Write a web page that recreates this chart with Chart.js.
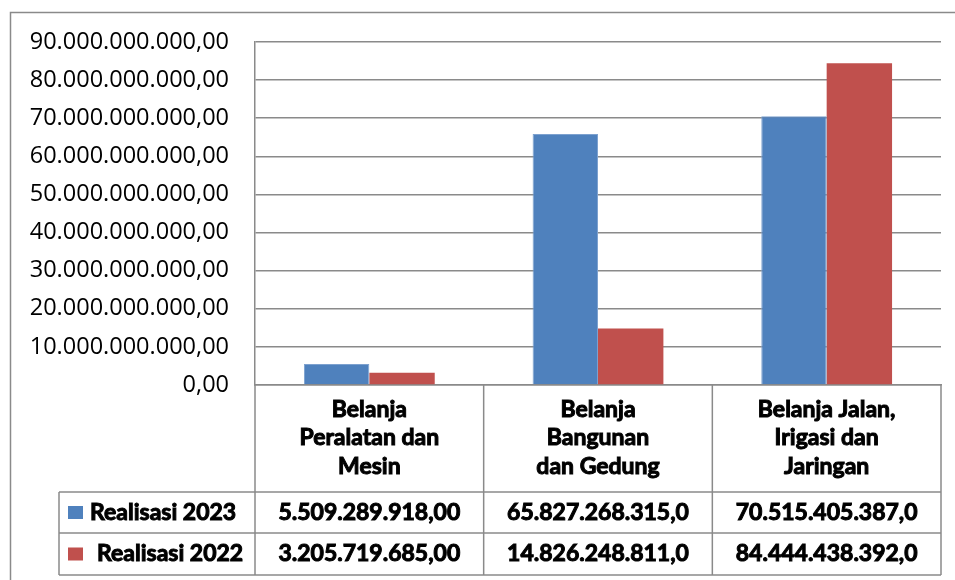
<!DOCTYPE html>
<html>
<head>
<meta charset="utf-8">
<script src="https://cdn.jsdelivr.net/npm/chart.js@4"></script>
<style>
    html, body { margin: 0; padding: 0; background: #ffffff; }
    #wrap { width: 955px; height: 580px; }
</style>
</head>
<body>
<div id="wrap"><canvas id="barChart" width="955" height="580"></canvas></div>
<script>
const categories = [
    ['Belanja', 'Peralatan dan', 'Mesin'],
    ['Belanja', 'Bangunan', 'dan Gedung'],
    ['Belanja Jalan,', 'Irigasi dan', 'Jaringan']
];
const seriesNames = ['Realisasi 2023', 'Realisasi 2022'];
const realisasi2023 = [5509289918, 65827268315, 70515405387];
const realisasi2022 = [3205719685, 14826248811, 84444438392];
const tableRow2023 = ['5.509.289.918,00', '65.827.268.315,0', '70.515.405.387,0'];
const tableRow2022 = ['3.205.719.685,00', '14.826.248.811,0', '84.444.438.392,0'];
const yTicks = [0, 10e9, 20e9, 30e9, 40e9, 50e9, 60e9, 70e9, 80e9, 90e9];

const colors = ['#4f81bd', '#c0504d'];
const lineColor = '#8a8a8a';
const boldFont = 'bold 23px Lato';

function formatRp(v) {
    if (v === 0) return '0,00';
    return Math.round(v).toString().replace(/\B(?=(\d{3})+(?!\d))/g, '.') + ',00';
}

// outer frame + data table under the category axis
const tablePlugin = {
    id: 'dataTable',
    beforeDraw(chart) {
        const ctx = chart.ctx;
        ctx.save();
        ctx.strokeStyle = lineColor;
        ctx.lineWidth = 1.5;
        ctx.beginPath();
        ctx.moveTo(10.5, 600);
        ctx.lineTo(10.5, 12.5);
        ctx.lineTo(960, 12.5);
        ctx.stroke();
        ctx.restore();
    },
    afterDraw(chart) {
        const ctx = chart.ctx;
        const x = chart.scales.x;
        const area = chart.chartArea;
        const half = (x.getPixelForValue(1) - x.getPixelForValue(0)) / 2;
        const edges = [x.getPixelForValue(0) - half];
        categories.forEach((c, i) => edges.push(x.getPixelForValue(i) + half));

        const rowTop = 492, rowMid = 533, rowBottom = 575, legendLeft = 59;

        ctx.save();
        ctx.strokeStyle = lineColor;
        ctx.lineWidth = 1.5;
        ctx.beginPath();
        edges.forEach(e => {
            ctx.moveTo(e, area.bottom);
            ctx.lineTo(e, rowBottom);
        });
        [rowTop, rowMid, rowBottom].forEach(y => {
            ctx.moveTo(legendLeft, y);
            ctx.lineTo(edges[edges.length - 1], y);
        });
        ctx.moveTo(legendLeft, rowTop);
        ctx.lineTo(legendLeft, rowBottom);
        ctx.stroke();

        const rows = [tableRow2023, tableRow2022];
        const rowCenters = [(rowTop + rowMid) / 2, (rowMid + rowBottom) / 2];
        const labelX = [90, 97];
        ctx.font = boldFont;
        ctx.textBaseline = 'middle';
        ctx.strokeStyle = '#000000';
        ctx.lineWidth = 1;
        rows.forEach((row, r) => {
            ctx.fillStyle = colors[r];
            ctx.fillRect(68, rowCenters[r] - 6.5, 15, 13);
            ctx.fillStyle = '#000000';
            ctx.textAlign = 'left';
            ctx.fillText(seriesNames[r], labelX[r], rowCenters[r]);
            ctx.strokeText(seriesNames[r], labelX[r], rowCenters[r]);
            ctx.textAlign = 'center';
            row.forEach((txt, i) => {
                ctx.fillText(txt, x.getPixelForValue(i), rowCenters[r]);
                ctx.strokeText(txt, x.getPixelForValue(i), rowCenters[r]);
            });
        });
        ctx.restore();
    }
};

const ctxBar = document.getElementById('barChart').getContext('2d');

const barChart = new Chart(ctxBar, {
    type: 'bar',
    data: {
        labels: categories,
        datasets: [{
            label: seriesNames[0],
            data: realisasi2023,
            backgroundColor: colors[0],
            borderColor: '#7da1cf',
            borderWidth: 1,
        },
            {
                label: seriesNames[1],
                data: realisasi2022,
                backgroundColor: colors[1],
                borderColor: '#c0504d',
                borderWidth: 0,
            }]
    },
    options: {
        responsive: false,
        animation: false,
        layout: {
            padding: {left: 0, top: 42, right: 14, bottom: 0}
        },
        plugins: {
            legend: {display: false},
            tooltip: {enabled: false}
        },
        datasets: {
            bar: {
                categoryPercentage: 0.572,
                barPercentage: 1.0
            }
        },
        scales: {
            x: {
                grid: {display: false, drawTicks: false},
                border: {display: true, color: lineColor, width: 1.5},
                ticks: {
                    color: '#000000',
                    textStrokeColor: '#000000',
                    textStrokeWidth: 1,
                    padding: 10,
                    maxRotation: 0,
                    autoSkip: false,
                    font: {family: 'Lato', size: 23, weight: 'bold', lineHeight: 1.24}
                },
                afterFit(scale) {
                    scale.height = 195;
                }
            },
            y: {
                min: 0,
                max: 90e9,
                afterBuildTicks(scale) {
                    scale.ticks = yTicks.map(v => ({value: v}));
                },
                grid: {color: lineColor, lineWidth: 1.5, drawTicks: false},
                border: {display: true, color: lineColor, width: 1.5},
                ticks: {
                    color: '#000000',
                    padding: 26,
                    font: {family: '"Open Sans"', size: 23.5},
                    callback: function (value) {
                        return formatRp(value);
                    }
                },
                afterFit(scale) {
                    scale.width = 255;
                }
            }
        }
    },
    plugins: [tablePlugin]
});
</script>
</body>
</html>
